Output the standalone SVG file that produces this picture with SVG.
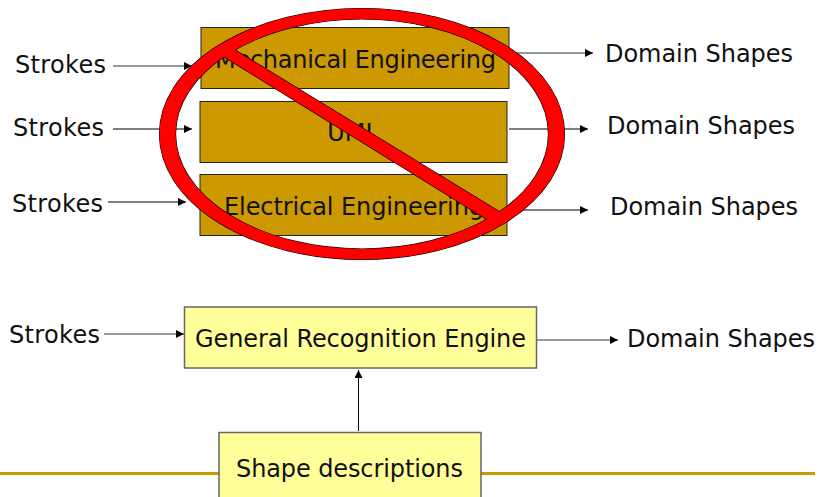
<svg xmlns="http://www.w3.org/2000/svg" width="821" height="497" viewBox="0 0 821 497">
<defs>
<style>
text{font-family:"DejaVu Sans",Verdana,sans-serif;font-size:24px;fill:#111}
.c{text-anchor:middle}
.o{fill:#cc9900;stroke:#222;stroke-width:1}
.y{fill:#ffff99;stroke:#666;stroke-width:1.500}
.l{stroke:#000;stroke-width:1;fill:none;marker-end:url(#a)}
.g{stroke:#777;stroke-width:1.500;fill:none;marker-end:url(#a)}
.rb{fill:#000;stroke:#000;stroke-width:1.200}
.rf{fill:#ff0000}
</style>
<marker id="a" markerUnits="userSpaceOnUse" markerWidth="9" markerHeight="8" refX="8" refY="4" orient="auto"><path d="M0 0L8 4L0 8Z" fill="#000"/></marker>
</defs>
<rect id="footer-line" x="0" y="472" width="815" height="3" fill="#cc9900"/>
<g id="connectors">
<path class="g" d="M113 66H192"/><path class="l" d="M113 129H192"/><path class="l" d="M108 202H186"/>
<path class="g" d="M509 53H593"/><path class="l" d="M509 129H588"/><path class="l" d="M509 210H588"/>
<path class="g" d="M104 334H184"/><path class="g" d="M537 340H618"/><path class="l" d="M358.500 431V370"/>
</g>
<g id="n1"><rect class="o" x="201" y="27.500" width="308" height="61"/><text x="215" y="68" textLength="281">Mechanical Engineering</text></g>
<g id="n2"><rect class="o" x="200" y="101.500" width="307" height="61"/><text class="c" x="353" y="141">UML</text></g>
<g id="n3"><rect class="o" x="200" y="174.500" width="307" height="61"/><text x="224" y="215" textLength="260">Electrical Engineering</text></g>
<g id="forbidden">
<path class="rb" fill-rule="evenodd" d="M159.500 134A202.500 125.500 0 1 0 564.500 134A202.500 125.500 0 1 0 159.500 134ZM175.500 134A186.500 115 0 1 1 548.500 134A186.500 115 0 1 1 175.500 134Z"/>
<path class="rb" d="M218 53L230 47L504 214.500L492 222.500Z"/>
<path class="rf" fill-rule="evenodd" d="M159.500 134A202.500 125.500 0 1 0 564.500 134A202.500 125.500 0 1 0 159.500 134ZM175.500 134A186.500 115 0 1 1 548.500 134A186.500 115 0 1 1 175.500 134Z"/>
<path class="rf" d="M218 53L230 47L504 214.500L492 222.500Z"/>
</g>
<g id="s1"><text x="15" y="73" textLength="91">Strokes</text></g>
<g id="s2"><text x="13" y="136" textLength="91">Strokes</text></g>
<g id="s3"><text x="12" y="212" textLength="91">Strokes</text></g>
<g id="s4"><text x="9" y="343" textLength="91">Strokes</text></g>
<g id="d1"><text x="605" y="62" textLength="188">Domain Shapes</text></g>
<g id="d2"><text x="607" y="134" textLength="188">Domain Shapes</text></g>
<g id="d3"><text x="610" y="215" textLength="188">Domain Shapes</text></g>
<g id="d4"><text x="627" y="347" textLength="188">Domain Shapes</text></g>
<g id="engine"><rect class="y" x="184.500" y="307" width="352" height="61"/><text x="195" y="347" textLength="331">General Recognition Engine</text></g>
<g id="shape"><rect class="y" x="219" y="432.500" width="262" height="66"/><text x="236" y="477" textLength="227">Shape descriptions</text></g>
</svg>
